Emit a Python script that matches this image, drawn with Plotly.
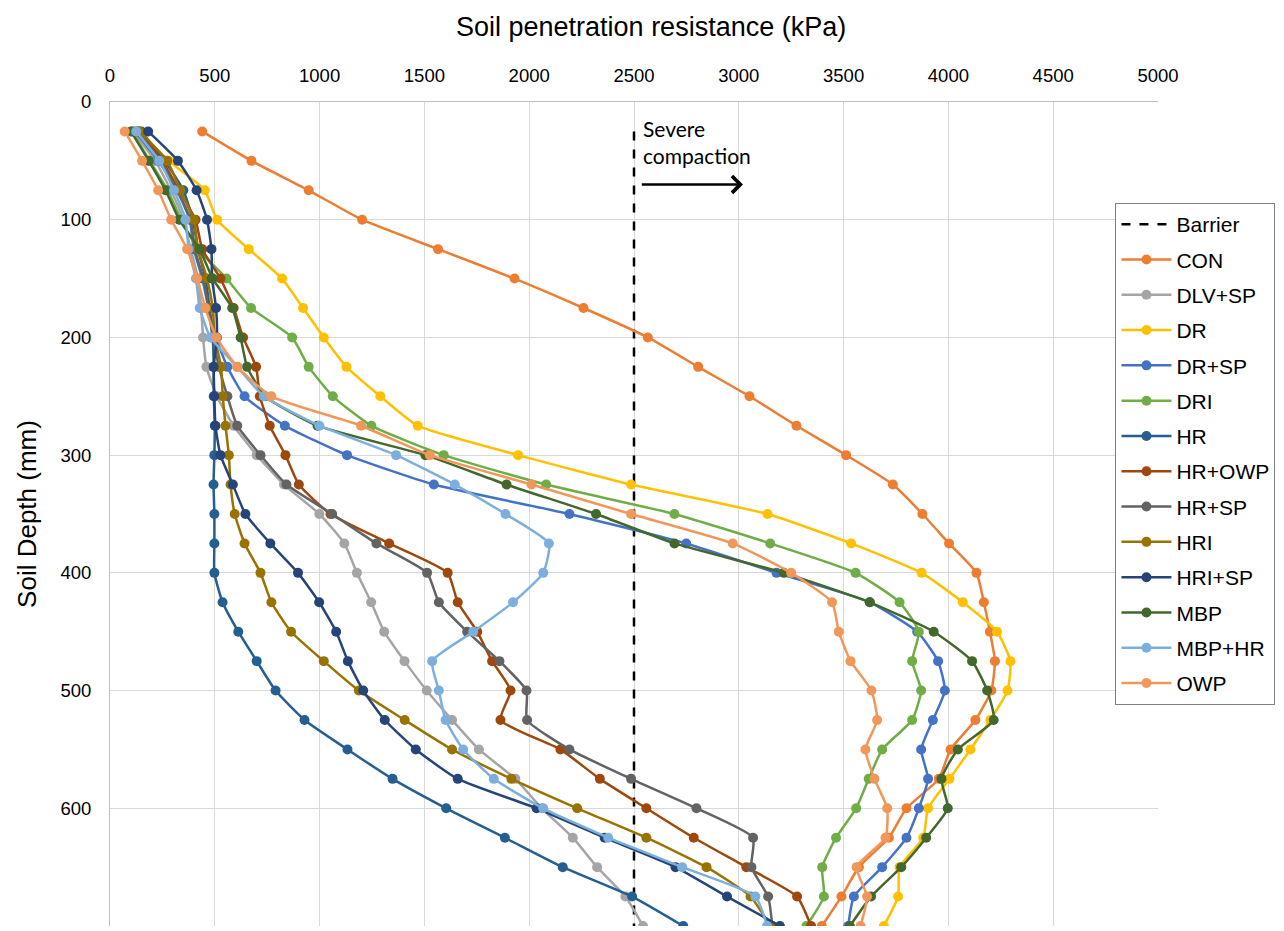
import plotly.graph_objects as go

depth = [25, 50, 75, 100, 125, 150, 175, 200, 225, 250, 275, 300, 325, 350,
         375, 400, 425, 450, 475, 500, 525, 550, 575, 600, 625, 650, 675, 700]

CON = [440, 675, 948, 1203, 1565, 1930, 2259, 2566, 2806, 3051, 3275, 3512, 3735, 3876,
       4003, 4134, 4169, 4198, 4222, 4205, 4129, 4010, 3954, 3800, 3716, 3573, 3490, 3396]
DLV_SP = [110, 215, 290, 350, 385, 420, 435, 444, 460, 510, 590, 700, 830, 999,
          1118, 1178, 1246, 1308, 1405, 1511, 1632, 1760, 1934, 2060, 2208, 2324, 2459, 2543]
DR = [140, 280, 452, 511, 662, 821, 921, 1020, 1128, 1290, 1468, 1947, 2486, 3137,
      3536, 3872, 4069, 4232, 4296, 4282, 4200, 4105, 4005, 3903, 3880, 3767, 3760, 3692]
DR_SP = [120, 230, 320, 380, 400, 440, 470, 505, 560, 642, 834, 1131, 1545, 2192,
         2749, 3180, 3625, 3851, 3951, 3983, 3926, 3870, 3903, 3859, 3800, 3684, 3549, 3522]
DRI = [105, 190, 275, 340, 420, 556, 673, 869, 948, 1063, 1247, 1592, 2081, 2693,
       3150, 3557, 3767, 3859, 3827, 3870, 3827, 3684, 3620, 3560, 3464, 3398, 3406, 3323]
HR = [150, 260, 350, 395, 420, 455, 475, 490, 495, 495, 500, 498, 494, 498,
      498, 498, 537, 612, 700, 790, 928, 1133, 1348, 1604, 1884, 2160, 2491, 2735]
HR_OWP = [135, 250, 330, 408, 440, 527, 590, 635, 697, 715, 762, 837, 901, 1052,
          1332, 1611, 1659, 1752, 1823, 1911, 1863, 2149, 2337, 2559, 2785, 3036, 3278, 3345]
HR_SP = [130, 240, 320, 385, 405, 445, 470, 490, 520, 560, 607, 718, 842, 1060,
         1271, 1513, 1569, 1704, 1858, 1987, 1990, 2192, 2486, 2798, 3068, 3060, 3140, 3160]
HRI = [140, 273, 336, 400, 420, 463, 490, 500, 530, 538, 551, 567, 575, 595,
       642, 718, 770, 864, 1020, 1187, 1406, 1632, 1915, 2229, 2559, 2846, 3056, 3150]
HRI_SP = [182, 324, 413, 463, 484, 487, 506, 510, 495, 498, 503, 527, 586, 646,
          765, 897, 998, 1079, 1135, 1208, 1311, 1459, 1659, 2035, 2360, 2698, 2944, 3196]
MBP = [100, 185, 265, 330, 427, 490, 583, 623, 654, 740, 990, 1505, 1892, 2319,
       2693, 3215, 3625, 3930, 4113, 4185, 4216, 4045, 3967, 3997, 3894, 3775, 3631, 3530]
MBP_HR = [125, 235, 305, 360, 375, 410, 428, 479, 607, 734, 999, 1365, 1645, 1887,
          2094, 2067, 1923, 1733, 1537, 1569, 1601, 1685, 1831, 2067, 2377, 2730, 3079, 3135]
OWP = [70, 153, 230, 292, 368, 416, 455, 508, 607, 770, 1198, 1526, 2011, 2486,
       2971, 3250, 3445, 3477, 3533, 3633, 3660, 3604, 3647, 3708, 3700, 3562, 3612, 3581]

barrier_x = [2500, 2500]
barrier_y = [25, 700]

series_names = ["CON", "DLV+SP", "DR", "DR+SP", "DRI", "HR", "HR+OWP", "HR+SP",
                "HRI", "HRI+SP", "MBP", "MBP+HR", "OWP"]
series_values = [CON, DLV_SP, DR, DR_SP, DRI, HR, HR_OWP, HR_SP, HRI, HRI_SP, MBP, MBP_HR, OWP]
series_colors = ["#ED7D31", "#A5A5A5", "#FFC000", "#4472C4", "#70AD47", "#255E91",
                 "#9E480E", "#636363", "#997300", "#264478", "#43682B", "#7CAFDD", "#F1975A"]

x_ticks = [0, 500, 1000, 1500, 2000, 2500, 3000, 3500, 4000, 4500, 5000]
y_ticks = [0, 100, 200, 300, 400, 500, 600, 700]

FONT = "Liberation Sans, Arial, sans-serif"

fig = go.Figure()
fig.add_trace(go.Scatter(x=barrier_x, y=barrier_y, mode="lines", name="Barrier",
                         legendgroup="Barrier",
                         line=dict(color="black", width=2.5, dash="dash")))
for name, vals, col in zip(series_names, series_values, series_colors):
    fig.add_trace(go.Scatter(
        x=vals, y=depth, mode="lines+markers", name=name, legendgroup=name,
        line=dict(color=col, width=2.5, shape="spline", smoothing=0.5),
        marker=dict(color=col, size=10, symbol="circle")))

fig.add_annotation(x=2532, y=10, xref="x", yref="y", text="Severe<br>compaction",
                   showarrow=False, xanchor="left", yanchor="top", align="left",
                   font=dict(family="Lato, sans-serif", size=21, color="black"))
fig.add_annotation(x=3020, y=70, ax=2530, ay=70, xref="x", yref="y", axref="x", ayref="y",
                   text="", showarrow=True, arrowhead=4, arrowsize=1.3, arrowwidth=2.5,
                   arrowcolor="black")
# x-axis title (placed as annotation to match the original's slight right offset)
fig.add_annotation(x=0.5165, y=1, xref="paper", yref="paper", yshift=75,
                   text="Soil penetration resistance (kPa)", showarrow=False,
                   xanchor="center", yanchor="middle",
                   font=dict(family=FONT, size=27, color="black"))

fig.update_layout(
    width=1276, height=923,
    margin=dict(l=102, r=126, t=94, b=5),
    plot_bgcolor="white", paper_bgcolor="white",
    font=dict(family=FONT, size=18, color="black"),
    legend=dict(x=0.9594, y=0.8774, xanchor="left", yanchor="top",
                bordercolor="#7F7F7F", borderwidth=1, bgcolor="white",
                font=dict(family=FONT, size=21, color="black"),
                tracegroupgap=5, itemwidth=50, traceorder="grouped"),
    showlegend=True,
)
fig.update_xaxes(side="top", range=[0, 5000], tickvals=x_ticks, showgrid=True,
                 gridcolor="#D9D9D9", gridwidth=1, showline=True, linecolor="#BFBFBF",
                 zeroline=False, ticks="", tickfont=dict(size=18.5), ticklabelstandoff=12)
fig.update_yaxes(range=[700, 0], tickvals=y_ticks, showgrid=True, gridcolor="#D9D9D9",
                 gridwidth=1, showline=True, linecolor="#BFBFBF", zeroline=False,
                 ticks="", tickfont=dict(size=18.5), ticklabelstandoff=14,
                 title=dict(text="Soil Depth (mm)", font=dict(size=26), standoff=16))

fig.write_html("out.html")
